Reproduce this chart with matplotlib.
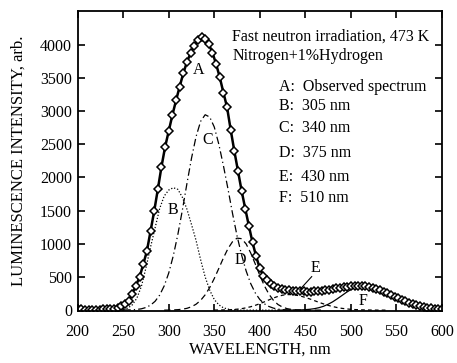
import numpy as np
import matplotlib
matplotlib.use('Agg')
import matplotlib.pyplot as plt

plt.rcParams['font.family'] = ['Liberation Serif', 'DejaVu Serif']

# observed spectrum (A), every 4 nm from 200 to 600
a_start = 200
a_vals = [12, 10, 9, 8, 8, 8, 9, 11, 13, 16,
          22, 35, 60, 90, 140, 250, 370, 500, 690, 890,
          1190, 1490, 1820, 2160, 2460, 2700, 2940, 3160, 3370, 3570,
          3740, 3875, 3985, 4070, 4120, 4090, 4010, 3880, 3710, 3510,
          3280, 3060, 2720, 2400, 2100, 1800, 1530, 1270, 1020, 810,
          630, 520, 450, 400, 362, 335, 316, 304, 297, 291,
          286, 283, 281, 280, 280, 282, 286, 292, 299, 307,
          318, 328, 338, 346, 354, 360, 364, 367, 367, 364,
          355, 339, 320, 299, 276, 252, 228, 204, 180, 156,
          133, 112, 93, 76, 61, 49, 38, 30, 23, 17, 13]

# fitted components, every 5 nm from their start wavelength
b_start = 240
b_vals = [2, 5, 10, 30, 80, 180, 360, 640, 950, 1240, 1530, 1720, 1810, 1845,
          1820, 1700, 1520, 1290, 1050, 760, 500, 300, 160, 80, 35, 15, 5, 2,
          0, 0, 0, 0, 0, 0, 0, 0, 0]
c_start = 250
c_vals = [2, 3, 5, 10, 20, 40, 75, 133, 226, 365, 560, 820, 1140, 1510, 1910,
          2290, 2615, 2845, 2945, 2910, 2760, 2500, 2180, 1830, 1460, 1120, 830,
          590, 400, 260, 160, 95, 55, 30, 15, 7, 3, 1, 0]
d_start = 295
d_vals = [0, 1, 3, 7, 14, 27, 51, 89, 147, 231, 341, 477, 629, 785, 926, 1031,
          1085, 1077, 997, 862, 696, 524, 368, 241, 147, 84, 45, 22, 10, 4, 2,
          1, 0, 0, 0, 0]
e_start = 350
e_vals = [1, 2, 3, 5, 8, 14, 22, 35, 51, 72, 97, 125, 154, 183, 207, 225, 234,
          234, 226, 211, 191, 168, 143, 117, 94, 72, 54, 39, 27, 19, 12, 8, 5,
          3, 2, 1, 0, 0, 0]
f_start = 420
f_vals = [0, 0, 1, 1, 2, 3, 7, 13, 22, 37, 58, 88, 125, 170, 218, 267, 310,
          342, 359, 359, 350, 335, 313, 286, 256, 225, 193, 162, 133, 107, 84,
          65, 49, 36, 26, 18, 13]

legend_lines = ['A:  Observed spectrum', 'B:  305 nm', 'C:  340 nm',
                'D:  375 nm', 'E:  430 nm', 'F:  510 nm']


def wl(start, vals, step=5):
    return start + step * np.arange(len(vals))


fig = plt.figure(figsize=(4.57, 3.63), dpi=100)
ax = fig.add_axes([0.170, 0.142, 0.797, 0.828])

ax.plot(wl(b_start, b_vals), b_vals, color='black', lw=0.9, ls=(0, (1, 1.5)))
ax.plot(wl(c_start, c_vals), c_vals, color='black', lw=0.9, ls=(0, (6, 2.5, 1, 2.5)))
ax.plot(wl(d_start, d_vals), d_vals, color='black', lw=0.9, ls=(0, (5, 3)))
ax.plot(wl(e_start, e_vals), e_vals, color='black', lw=0.9, ls=(0, (3, 2.5)))
ax.plot(wl(f_start, f_vals), f_vals, color='black', lw=0.9)
ax.plot(wl(a_start, a_vals, 4), a_vals, color='black', lw=1.8, marker='D',
        markersize=3.8, mfc='white', mec='black', mew=1.1)

# curve labels
fs = 11.5
ax.text(333, 3620, 'A', fontsize=fs, ha='center', va='center')
ax.text(305, 1510, 'B', fontsize=fs, ha='center', va='center')
ax.text(343, 2570, 'C', fontsize=fs, ha='center', va='center')
ax.text(379, 760, 'D', fontsize=fs, ha='center', va='center')
ax.text(461, 640, 'E', fontsize=fs, ha='center', va='center')
ax.text(513, 140, 'F', fontsize=fs, ha='center', va='center')
ax.plot([457, 444], [505, 310], color='black', lw=0.8)

ax.text(370, 4120, 'Fast neutron irradiation, 473 K', fontsize=fs, va='center')
ax.text(370, 3835, 'Nitrogen+1%Hydrogen', fontsize=fs, va='center')
ys = [3366, 3080, 2748, 2372, 2010, 1694]
for y, s in zip(ys, legend_lines):
    ax.text(421, y, s, fontsize=fs, va='center')

ax.set_xlim(200, 600)
ax.set_ylim(-20, 4510)
ax.set_xticks(np.arange(200, 601, 50))
ax.set_yticks(np.arange(0, 4001, 500))
ax.tick_params(direction='in', top=True, right=True, length=5, width=1.2,
               labelsize=fs)
ax.tick_params(axis='x', pad=9)
ax.tick_params(axis='y', pad=4)
for sp in ax.spines.values():
    sp.set_linewidth(1.3)

ax.set_xlabel('WAVELENGTH, nm', fontsize=12, labelpad=1.5)
ax.set_ylabel('LUMINESCENCE INTENSITY, arb.', fontsize=12, labelpad=10)

fig.savefig('out.png', dpi=100)
